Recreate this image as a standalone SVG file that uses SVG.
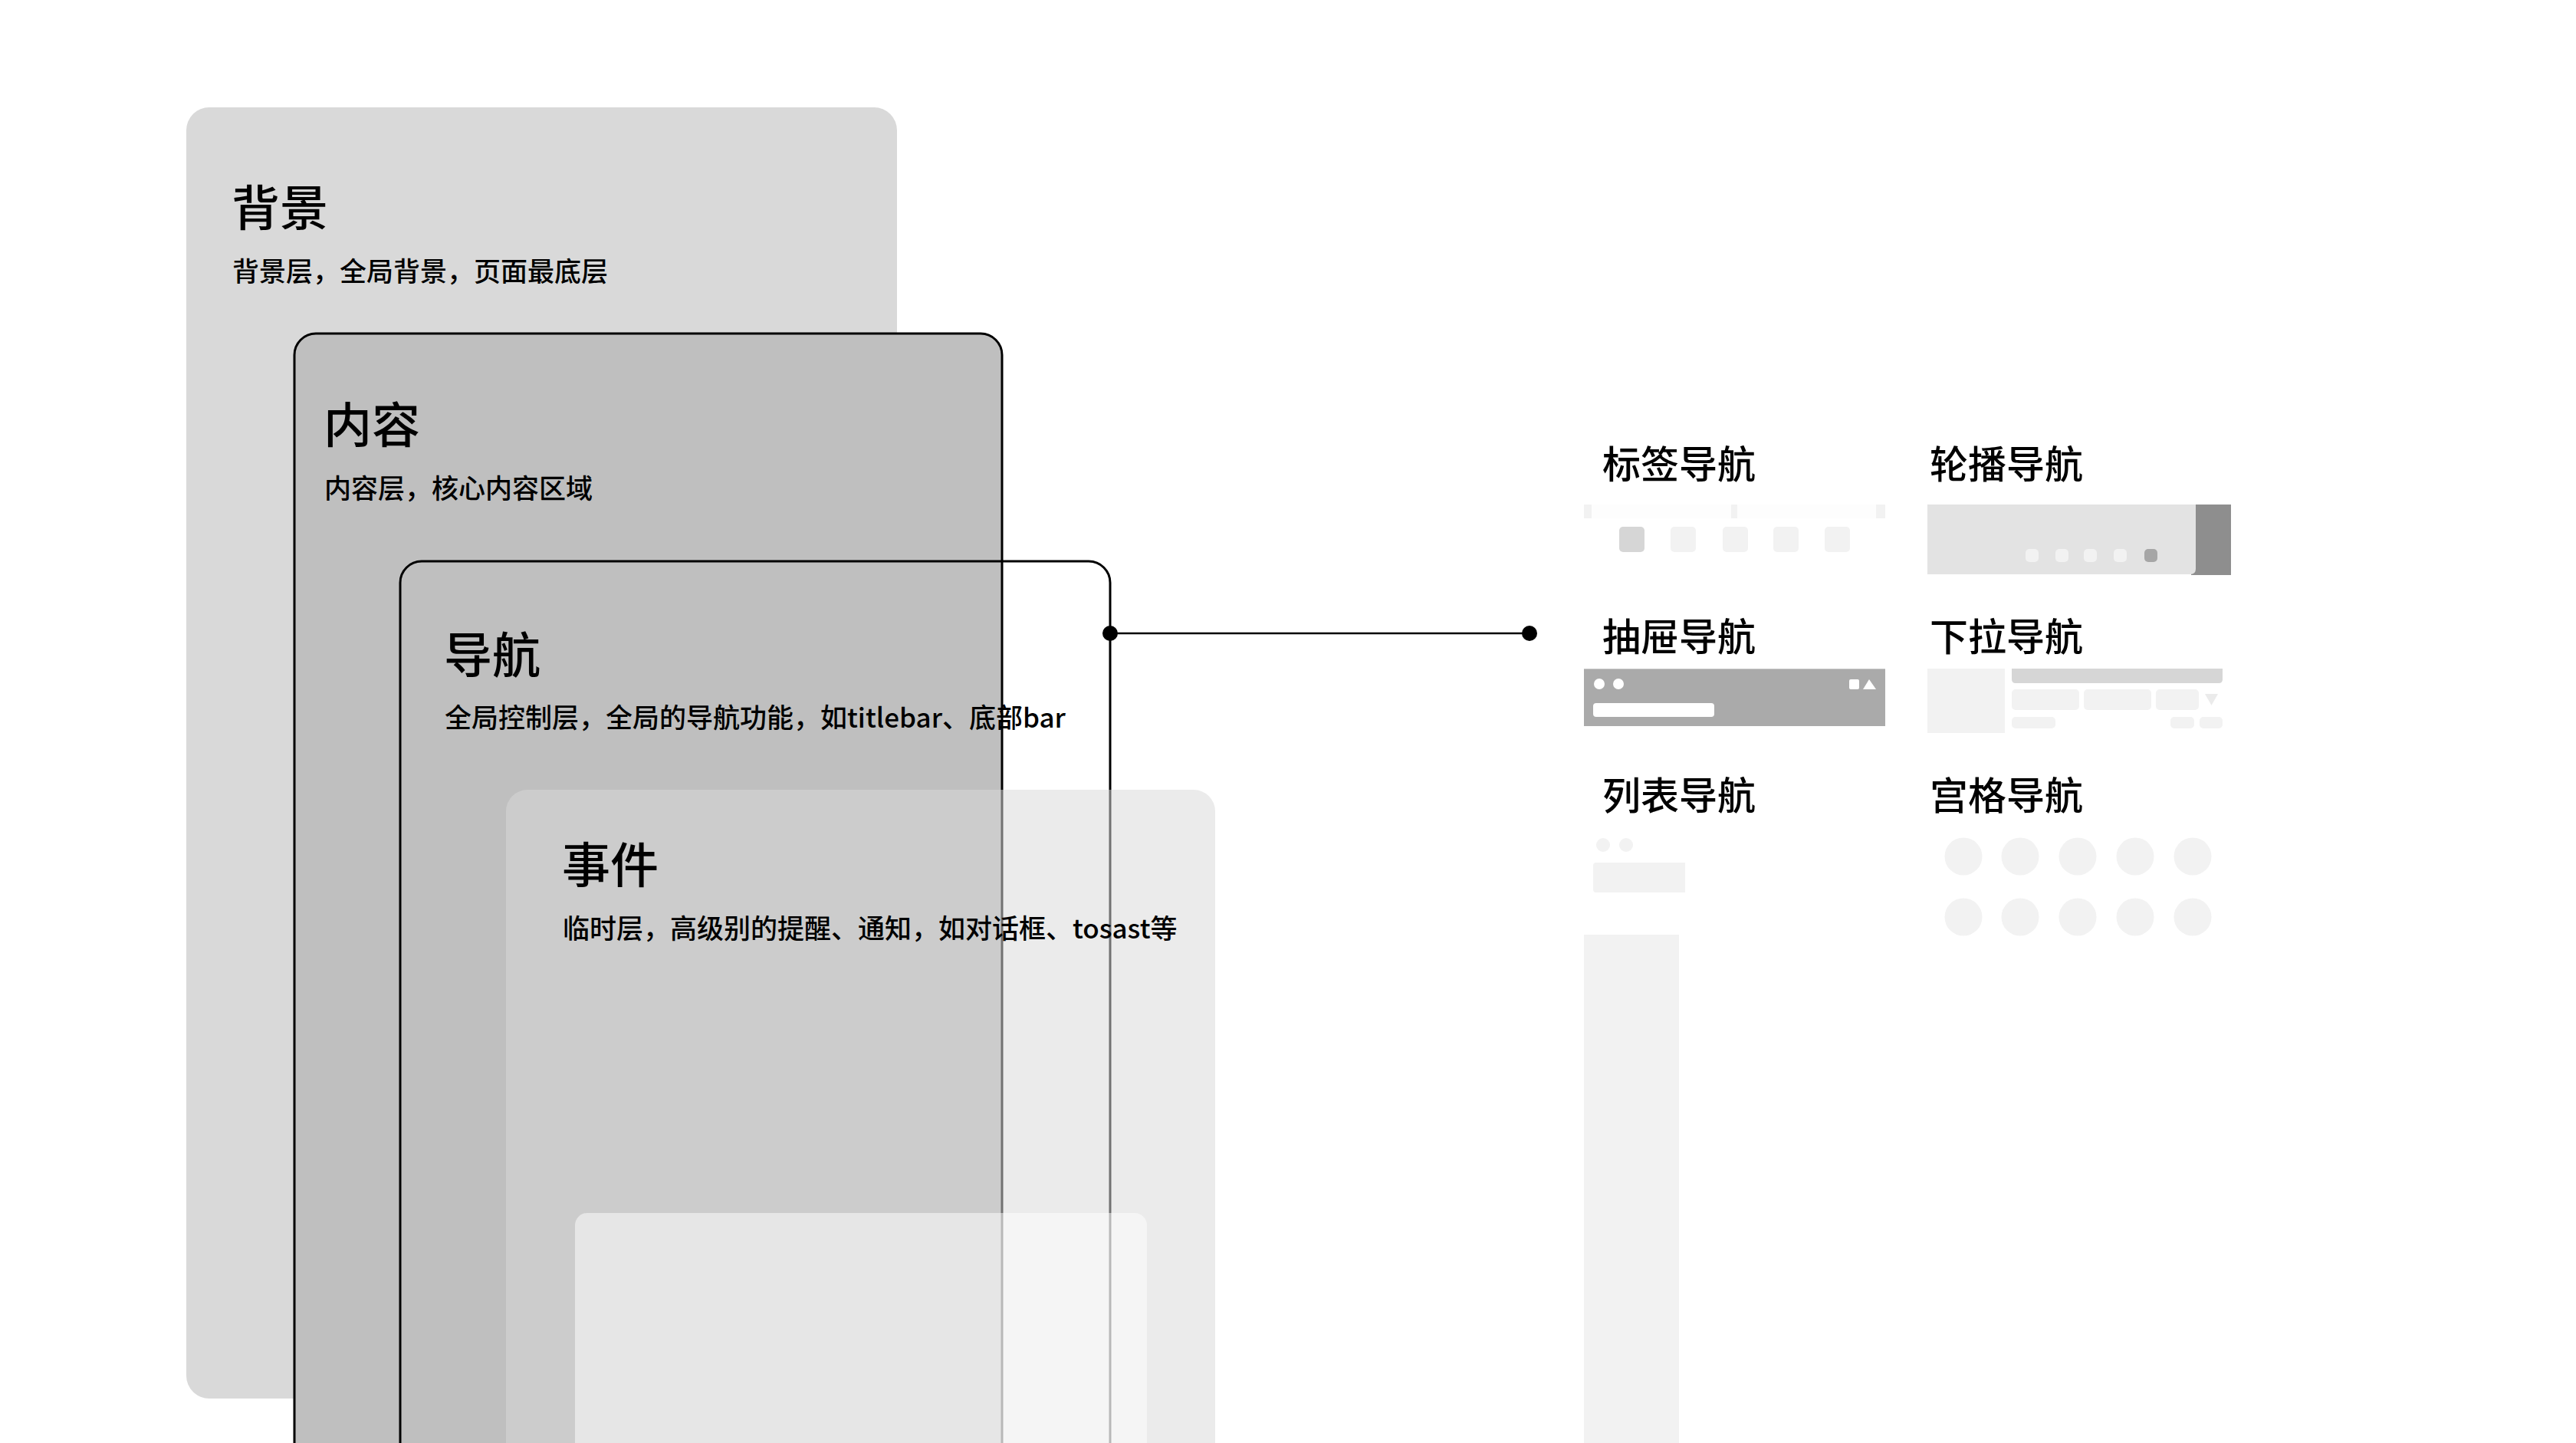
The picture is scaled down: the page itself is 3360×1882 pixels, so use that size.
<svg xmlns="http://www.w3.org/2000/svg" width="3360" height="1882" viewBox="0 0 3360 1882">
<style>
text{font-family:"Noto Sans CJK SC","Noto Sans",sans-serif;fill:#000;font-weight:500}
.t{font-size:63px}
.s{font-size:35px}
.l{font-size:50px}
.lt{fill:#f2f2f2}
.mid{fill:#d6d6d6}
.w{fill:#fff}
</style>
<rect width="3360" height="1882" fill="#fff"/>
<g id="layer-background">
<rect x="243" y="140" width="927" height="1684" rx="30" fill="#d9d9d9"/>
<text class="t" x="302" y="294">背景</text>
<text class="s" x="303" y="367">背景层，全局背景，页面最底层</text>
</g>
<g id="layer-content">
<rect x="384" y="435" width="923" height="1520" rx="28" fill="#bfbfbf" stroke="#000" stroke-width="3"/>
<text class="t" x="422" y="577">内容</text>
<text class="s" x="423" y="650">内容层，核心内容区域</text>
</g>
<g id="layer-nav">
<rect x="522" y="732" width="926" height="1300" rx="28" fill="none" stroke="#000" stroke-width="3"/>
<text class="t" x="579" y="877">导航</text>
<text class="s" x="580" y="949">全局控制层，全局的导航功能，如titlebar、底部bar</text>
</g>
<g id="layer-event">
<rect x="660" y="1030" width="925" height="1000" rx="28" fill="#d9d9d9" fill-opacity="0.52"/>
<text class="t" x="733" y="1151">事件</text>
<text class="s" x="734" y="1224">临时层，高级别的提醒、通知，如对话框、tosast等</text>
<rect x="750" y="1582" width="746" height="500" rx="16" fill="#fff" fill-opacity="0.5"/>
</g>
<g id="connectors">
<line x1="1448" y1="826" x2="1995" y2="826" stroke="#000" stroke-width="2.5"/>
<circle cx="1448" cy="826" r="10" fill="#000"/>
<circle cx="1995" cy="826" r="10" fill="#000"/>
</g>
<g id="nav-tab">
<text class="l" x="2090" y="624">标签导航</text>
<rect x="2066" y="658" width="393" height="18" fill="#fdfdfd"/>
<rect class="lt" x="2066" y="658" width="10" height="18"/>
<rect class="lt" x="2258" y="658" width="8" height="18"/>
<rect class="lt" x="2447" y="658" width="12" height="18"/>
<rect class="mid" x="2112" y="687" width="33" height="33" rx="5"/>
<rect class="lt" x="2179" y="687" width="33" height="33" rx="5"/>
<rect class="lt" x="2247" y="687" width="33" height="33" rx="5"/>
<rect class="lt" x="2313" y="687" width="33" height="33" rx="5"/>
<rect class="lt" x="2380" y="687" width="33" height="33" rx="5"/>
</g>
<g id="nav-carousel">
<text class="l" x="2517" y="624">轮播导航</text>
<rect x="2858" y="658" width="52" height="92" fill="#8e8e8e"/>
<path d="M2514 658H2864V742Q2864 749 2857 749H2514Z" fill="#e3e3e3"/>
<rect class="lt" x="2642" y="716" width="17" height="17" rx="5"/>
<rect class="lt" x="2681" y="716" width="17" height="17" rx="5"/>
<rect class="lt" x="2718" y="716" width="17" height="17" rx="5"/>
<rect class="lt" x="2757" y="716" width="17" height="17" rx="5"/>
<rect x="2797" y="716" width="17" height="17" rx="5" fill="#a6a6a6"/>
</g>
<g id="nav-drawer">
<text class="l" x="2090" y="849">抽屉导航</text>
<rect x="2066" y="872" width="393" height="75" fill="#aaaaaa"/>
<line x1="2066" y1="872.5" x2="2459" y2="872.5" stroke="#c8c8c8" stroke-width="1"/>
<circle class="w" cx="2086" cy="892" r="7"/>
<circle class="w" cx="2111" cy="892" r="7"/>
<rect class="w" x="2412" y="886" width="13" height="13" rx="2"/>
<polygon class="w" points="2438,886 2447,899 2430,899"/>
<rect class="w" x="2078" y="917" width="158" height="18" rx="4"/>
</g>
<g id="nav-dropdown">
<text class="l" x="2517" y="849">下拉导航</text>
<rect class="lt" x="2514" y="872" width="101" height="84"/>
<path d="M2624 872H2899V886Q2899 891 2894 891H2629Q2624 891 2624 886Z" fill="#d6d6d6"/>
<rect class="lt" x="2624" y="899" width="88" height="27" rx="5"/>
<rect class="lt" x="2718" y="899" width="88" height="27" rx="5"/>
<rect class="lt" x="2812" y="899" width="56" height="27" rx="5"/>
<polygon points="2876,905 2893,905 2884.5,920" fill="#ebebeb"/>
<rect class="lt" x="2624" y="935" width="57" height="15" rx="5"/>
<rect class="lt" x="2831" y="935" width="31" height="15" rx="5"/>
<rect class="lt" x="2869" y="935" width="30" height="15" rx="5"/>
</g>
<g id="nav-list">
<text class="l" x="2090" y="1056">列表导航</text>
<circle class="lt" cx="2091" cy="1102" r="9"/>
<circle class="lt" cx="2121" cy="1102" r="9"/>
<path d="M2082 1125H2198V1164H2082Q2078 1164 2078 1160V1129Q2078 1125 2082 1125Z" fill="#f2f2f2"/>
<rect class="lt" x="2066" y="1219" width="124" height="663"/>
</g>
<g id="nav-grid">
<text class="l" x="2517" y="1056">宫格导航</text>
<circle class="lt" cx="2561" cy="1117" r="24.5"/>
<circle class="lt" cx="2635" cy="1117" r="24.5"/>
<circle class="lt" cx="2710" cy="1117" r="24.5"/>
<circle class="lt" cx="2785" cy="1117" r="24.5"/>
<circle class="lt" cx="2860" cy="1117" r="24.5"/>
<circle class="lt" cx="2561" cy="1196" r="24.5"/>
<circle class="lt" cx="2635" cy="1196" r="24.5"/>
<circle class="lt" cx="2710" cy="1196" r="24.5"/>
<circle class="lt" cx="2785" cy="1196" r="24.5"/>
<circle class="lt" cx="2860" cy="1196" r="24.5"/>
</g>
</svg>
